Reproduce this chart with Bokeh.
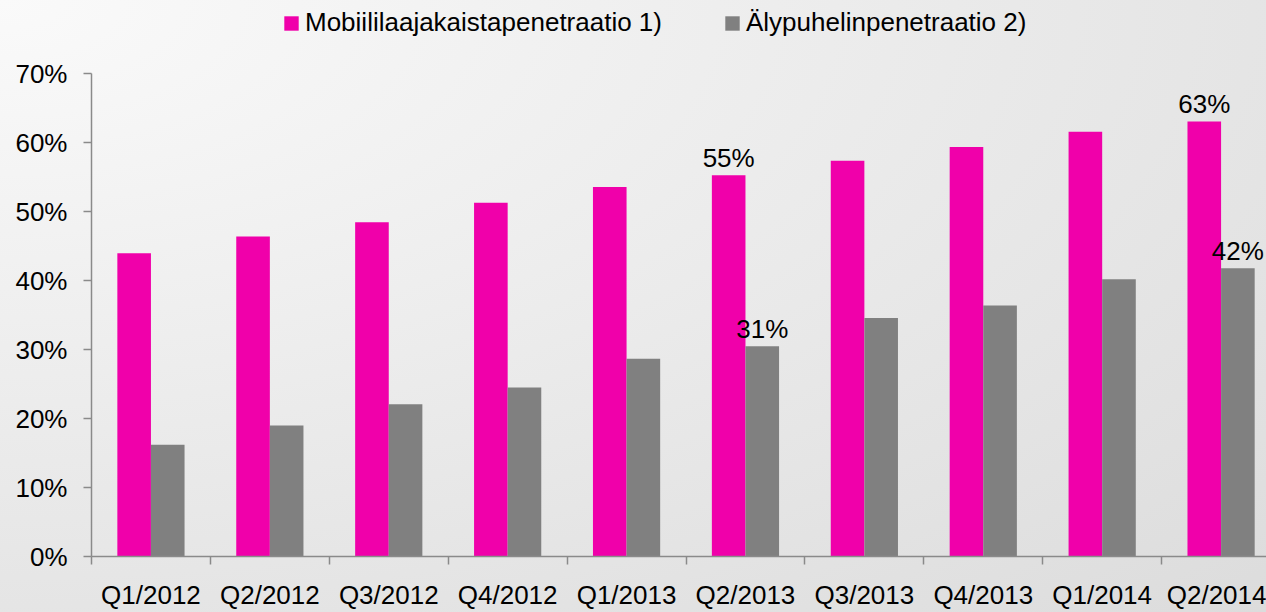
from bokeh.plotting import figure
from bokeh.models import (Range1d, FixedTicker, PrintfTickFormatter, Legend, LegendItem,
                          ColumnDataSource, LinearAxis)
from bokeh.core.properties import value
from bokeh.embed import file_html
from bokeh.resources import INLINE

categories = ["Q1/2012", "Q2/2012", "Q3/2012", "Q4/2012", "Q1/2013",
              "Q2/2013", "Q3/2013", "Q4/2013", "Q1/2014", "Q2/2014"]
mobile_bb = [44.0, 46.4, 48.5, 51.3, 53.6, 55.3, 57.4, 59.4, 61.6, 63.1]
smartphone = [16.2, 19.0, 22.1, 24.5, 28.7, 30.5, 34.6, 36.4, 40.2, 41.8]
series_names = ["Mobiililaajakaistapenetraatio 1)", "Älypuhelinpenetraatio 2)"]
label_idx_mobile = [5, 9]
label_txt_mobile = ["55%", "63%"]
label_idx_smart = [5, 9]
label_txt_smart = ["31%", "42%"]
y_ticks = [0, 10, 20, 30, 40, 50, 60, 70]

PINK = "#F000AA"
GREY = "#808080"
AXIS = "#8a8a8a"
FONT = "Liberation Sans"
FS = "26px"

bw = 0.2826
off = bw / 2
centers = [i + 0.5 for i in range(len(categories))]

p = figure(width=1266, height=612, output_backend="svg", toolbar_location=None,
           x_range=Range1d(0, 9.882), y_range=Range1d(0, 80.65),
           min_border_left=91, min_border_right=0, min_border_top=0, min_border_bottom=44)
p.styles = {"background": "radial-gradient(farthest-corner at 0% 0%, #fafafa 0%, #dcdcdc 100%)"}
p.background_fill_alpha = 0
p.border_fill_alpha = 0
p.outline_line_color = None
p.grid.visible = False
p.xaxis.visible = False
p.yaxis.visible = False

src1 = ColumnDataSource(dict(x=[c - off for c in centers], top=mobile_bb))
src2 = ColumnDataSource(dict(x=[c + off for c in centers], top=smartphone))
r1 = p.vbar(x="x", top="top", width=bw, bottom=0, source=src1, fill_color=PINK, line_color=None)
r2 = p.vbar(x="x", top="top", width=bw, bottom=0, source=src2, fill_color=GREY, line_color=None)

xa = LinearAxis(ticker=FixedTicker(ticks=centers, minor_ticks=list(range(len(categories) + 1))),
                major_label_overrides={c: lab for c, lab in zip(centers, categories)})
xa.axis_line_color = AXIS
xa.axis_line_width = 1.5
xa.major_tick_out = 0
xa.major_tick_in = 0
xa.minor_tick_out = 8
xa.minor_tick_in = 0
xa.minor_tick_line_color = AXIS
xa.minor_tick_line_width = 1.5
xa.major_label_standoff = 15
xa.major_label_text_font = FONT
xa.major_label_text_font_size = FS
xa.major_label_text_color = "#000000"
xa.major_label_text_line_height = 1.0
p.add_layout(xa, "below")

ya = LinearAxis(ticker=FixedTicker(ticks=y_ticks, minor_ticks=[]),
                formatter=PrintfTickFormatter(format="%d%%"), bounds=(0, 70))
ya.axis_line_color = AXIS
ya.axis_line_width = 1.5
ya.major_tick_out = 8
ya.major_tick_in = 0
ya.major_tick_line_color = AXIS
ya.major_tick_line_width = 1.5
ya.minor_tick_out = 0
ya.minor_tick_in = 0
ya.major_label_standoff = 16
ya.major_label_text_font = FONT
ya.major_label_text_font_size = FS
ya.major_label_text_color = "#000000"
p.add_layout(ya, "left")

lab_src1 = ColumnDataSource(dict(x=[centers[i] - off for i in label_idx_mobile],
                                 y=[mobile_bb[i] for i in label_idx_mobile], t=label_txt_mobile))
lab_src2 = ColumnDataSource(dict(x=[centers[i] + off for i in label_idx_smart],
                                 y=[smartphone[i] for i in label_idx_smart], t=label_txt_smart))
for s in (lab_src1, lab_src2):
    p.text(x="x", y="y", text="t", source=s, text_align="center", text_baseline="alphabetic",
           y_offset=-17, text_font=value(FONT), text_font_size=FS, text_color="#000000")

legend = Legend(items=[LegendItem(label=series_names[0], renderers=[r1]),
                       LegendItem(label=series_names[1], renderers=[r2])],
                location=(191, 518), orientation="horizontal")
legend.glyph_width = 18
legend.glyph_height = 18
legend.label_standoff = 5
legend.spacing = 61
legend.padding = 0
legend.margin = 0
legend.border_line_color = None
legend.background_fill_alpha = 0
legend.label_text_font = FONT
legend.label_text_font_size = FS
legend.label_text_color = "#000000"
legend.label_text_baseline = "middle"
p.add_layout(legend, "center")

open("out.html", "w").write(file_html(p, INLINE))
